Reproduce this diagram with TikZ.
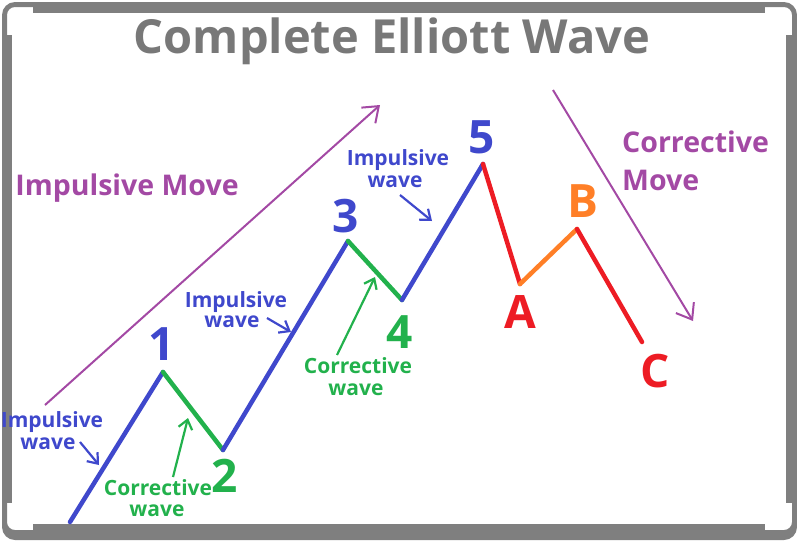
\documentclass[tikz,border=0pt]{standalone}
\usepackage{fontspec}
\setmainfont{Open Sans}
\usetikzlibrary{arrows.meta}
\definecolor{wblue}{RGB}{63,72,204}
\definecolor{wgreen}{RGB}{34,177,76}
\definecolor{wred}{RGB}{237,28,36}
\definecolor{worange}{RGB}{255,127,39}
\definecolor{wpurple}{RGB}{163,73,164}
\definecolor{wgrey}{RGB}{127,127,127}
\definecolor{tgrey}{RGB}{120,120,120}
\tikzset{
  wave/.style={line width=4.5pt, line cap=round, line join=round},
  small/.style={font=\fontsize{21}{21}\selectfont\bfseries, inner sep=0pt, anchor=base},
  big/.style={font=\fontsize{46}{46}\selectfont\bfseries, inner sep=0pt, anchor=base},
  move/.style={font=\fontsize{28.5}{28.5}\selectfont\bfseries, inner sep=0pt, text=wpurple},
  pointer/.style={line width=2.2pt, -{Straight Barb[length=9pt,width=14pt,line width=2.2pt]}},
  bigpointer/.style={line width=2pt, wpurple, -{Straight Barb[length=14pt,width=21pt,line width=2pt]}},
}
\begin{document}
\begin{tikzpicture}[x=1pt,y=-1pt]
\useasboundingbox (0,0) rectangle (797,542);
% frame
\fill[wgrey, even odd rule, rounded corners=13pt] (2,2) rectangle (797,540) [rounded corners=8pt] (7,7) rectangle (792,530);
\fill[wgrey] (33,2) rectangle (765,13);
\fill[wgrey] (33,524) rectangle (765,540);
\fill[wgrey] (2,35) rectangle (12,503);
\fill[wgrey] (786,35) rectangle (797,503);
% title
\node[font=\fontsize{47}{47}\selectfont\bfseries, text=tgrey, inner sep=0pt, anchor=base] (title) at (392,53) {Complete Elliott Wave};
% wave points
\coordinate (p0) at (70,522);
\coordinate (p1) at (163,372);
\coordinate (p2) at (223,450);
\coordinate (p3) at (348,241);
\coordinate (p4) at (402,300);
\coordinate (p5) at (483,164);
\coordinate (pA) at (520,284);
\coordinate (pB) at (577,229);
\coordinate (pC) at (642,342);
\draw[wave, wblue] (p0) -- (p1);
\draw[wave, wgreen] (p1) -- (p2);
\draw[wave, wblue] (p2) -- (p3);
\draw[wave, wgreen] (p3) -- (p4);
\draw[wave, wblue] (p4) -- (p5);
\draw[wave, wred] (p5) -- (pA);
\draw[wave, worange] (pA) -- (pB);
\draw[wave, wred] (pB) -- (pC);
% big labels
\node[big, text=wblue] (n1) at (162,360) {1};
\node[big, text=wgreen] (n2) at (225,492) {2};
\node[big, text=wblue] (n3) at (346,232) {3};
\node[big, text=wgreen] (n4) at (400,348) {4};
\node[big, text=wblue] (n5) at (482,153) {5};
\node[big, text=wred] (nA) at (520,328) {A};
\node[big, text=worange] (nB) at (583,217) {B};
\node[big, text=wred] (nC) at (655,387) {C};
% move labels and arrows
\node[move, anchor=base] (im) at (127,195) {Impulsive Move};
\node[move, anchor=base west] (cm1) at (622,152) {Corrective};
\node[move, anchor=base west] (cm2) at (622,190) {Move};
\coordinate (ims) at (45,405);
\coordinate (ime) at (380,105);
\coordinate (cms) at (553,90);
\coordinate (cme) at (693,321);
\draw[bigpointer] (ims) -- (ime);
\draw[bigpointer] (cms) -- (cme);
% small labels
\node[small, text=wblue] (l1a) at (52,427) {Impulsive};
\node[small, text=wblue] (l1b) at (48,449) {wave};
\node[small, text=wgreen] (l2a) at (158,495) {Corrective};
\node[small, text=wgreen] (l2b) at (157,516) {wave};
\node[small, text=wblue] (l3a) at (236,307) {Impulsive};
\node[small, text=wblue] (l3b) at (232,327) {wave};
\node[small, text=wgreen] (l4a) at (358,373) {Corrective};
\node[small, text=wgreen] (l4b) at (356,395) {wave};
\node[small, text=wblue] (l5a) at (398,165) {Impulsive};
\node[small, text=wblue] (l5b) at (395,187) {wave};
% small pointers
\coordinate (a1s) at (80,442); \coordinate (a1e) at (99,465);
\coordinate (a2s) at (173,477); \coordinate (a2e) at (188,418);
\coordinate (a3s) at (267,318); \coordinate (a3e) at (291,332);
\coordinate (a4s) at (337,355); \coordinate (a4e) at (375,277);
\coordinate (a5s) at (400,195); \coordinate (a5e) at (432,221);
\draw[pointer, wblue] (a1s) -- (a1e);
\draw[pointer, wgreen] (a2s) -- (a2e);
\draw[pointer, wblue] (a3s) -- (a3e);
\draw[pointer, wgreen] (a4s) -- (a4e);
\draw[pointer, wblue] (a5s) -- (a5e);
\end{tikzpicture}
\end{document}
